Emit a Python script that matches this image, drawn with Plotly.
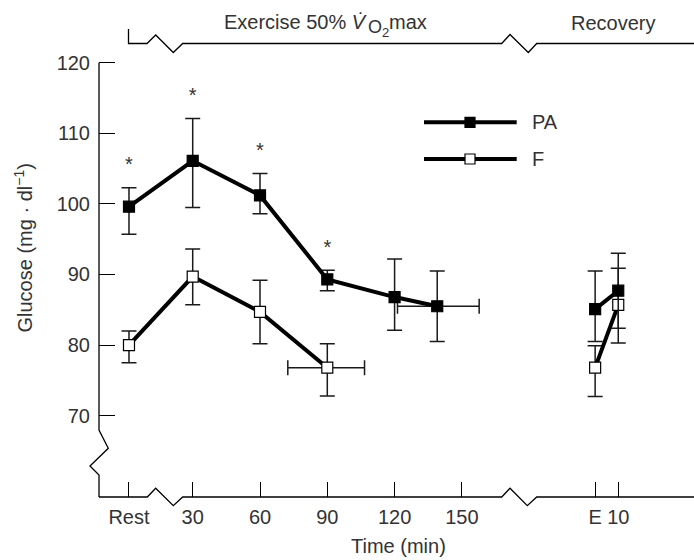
import plotly.graph_objects as go

# ---------------- data ----------------
time_ticks = [1.6, 30, 60, 90, 120, 150, 209.4, 219.7]
time_labels = ["Rest", "30", "60", "90", "120", "150", "E", "10"]
y_ticks = [70, 80, 90, 100, 110, 120]

# PA group - exercise phase
pa_ex_x = [1.6, 30, 60, 90, 120, 139]
pa_ex_y = [99.6, 106.1, 101.2, 89.3, 86.8, 85.5]
pa_ex_ep = [2.7, 6.0, 3.1, 1.3, 5.4, 5.0]
pa_ex_em = [3.9, 6.6, 2.6, 1.6, 4.7, 5.0]
pa_ex_xep = [0, 0, 0, 0, 0, 18.7]
pa_ex_xem = [0, 0, 0, 0, 0, 17.7]
pa_sig = [True, True, True, True, False, False]

# PA group - recovery
pa_rec_x = [209.4, 219.7]
pa_rec_y = [85.1, 87.7]
pa_rec_ep = [5.4, 5.3]
pa_rec_em = [4.6, 5.3]

# F group - exercise phase
f_ex_x = [1.6, 30, 60, 90]
f_ex_y = [80.0, 89.7, 84.7, 76.8]
f_ex_ep = [2.0, 3.9, 4.5, 3.4]
f_ex_em = [2.5, 4.0, 4.5, 4.0]
f_ex_xep = [0, 0, 0, 16.6]
f_ex_xem = [0, 0, 0, 17.6]

# F group - recovery
f_rec_x = [209.4, 219.7]
f_rec_y = [76.8, 85.7]
f_rec_ep = [3.1, 5.2]
f_rec_em = [4.1, 5.4]

# ---------------- layout geometry ----------------
W, H = 694, 560
ML, MR, MT, MB = 99, 0, 0, 63
PLOT_W = W - ML - MR
PLOT_H = H - MT - MB
FONT = "Liberation Sans, Arial, sans-serif"
TXT = "#333333"
FS = 20


def PX(x):
    return (x - ML) / PLOT_W


def PY(y):
    return (MT + PLOT_H - y) / PLOT_H


def path(points):
    return "M " + " L ".join(f"{PX(x):.5f},{PY(y):.5f}" for x, y in points)


fig = go.Figure()

# horizontal error bars (drawn beneath)
for xs, ys, xep, xem in [(pa_ex_x, pa_ex_y, pa_ex_xep, pa_ex_xem),
                         (f_ex_x, f_ex_y, f_ex_xep, f_ex_xem)]:
    idx = [i for i in range(len(xs)) if xep[i] > 0 or xem[i] > 0]
    fig.add_trace(go.Scatter(
        x=[xs[i] for i in idx], y=[ys[i] for i in idx], mode="markers",
        marker=dict(size=1, opacity=0),
        error_x=dict(type="data", array=[xep[i] for i in idx],
                     arrayminus=[xem[i] for i in idx], symmetric=False,
                     color="#1a1a1a", thickness=1.5, width=7.5),
        showlegend=False, hoverinfo="skip"))

series = [
    (f_ex_x, f_ex_y, f_ex_ep, f_ex_em, "white"),
    (f_rec_x, f_rec_y, f_rec_ep, f_rec_em, "white"),
    (pa_ex_x, pa_ex_y, pa_ex_ep, pa_ex_em, "black"),
    (pa_rec_x, pa_rec_y, pa_rec_ep, pa_rec_em, "black"),
]
for xs, ys, ep, em, fill in series:
    fig.add_trace(go.Scatter(
        x=xs, y=ys, mode="lines+markers",
        line=dict(color="black", width=4),
        marker=dict(symbol="square", size=11, color=fill,
                    line=dict(color="black", width=1.2)),
        error_y=dict(type="data", array=ep, arrayminus=em, symmetric=False,
                     color="#1a1a1a", thickness=1.5, width=7.5),
        showlegend=False, hoverinfo="skip"))

# significance asterisks above PA error bars
sx = [pa_ex_x[i] for i in range(len(pa_ex_x)) if pa_sig[i]]
sy = [pa_ex_y[i] + pa_ex_ep[i] + 3.0 for i in range(len(pa_ex_x)) if pa_sig[i]]
fig.add_trace(go.Scatter(x=sx, y=sy, mode="text", text=["*"] * len(sx),
                         textposition="middle center",
                         textfont=dict(family=FONT, size=20, color=TXT),
                         showlegend=False, hoverinfo="skip"))

shapes = []
line_style = dict(color="black", width=1.3)
# y axis with break
shapes.append(dict(type="path", xref="paper", yref="paper", line=line_style,
                   path=path([(99, 62.7), (99, 430), (108.3, 448.3), (90, 466),
                              (99, 475), (99, 497)])))
# x axis with breaks
shapes.append(dict(type="path", xref="paper", yref="paper", line=line_style,
                   path=path([(99, 497), (147.3, 497), (155.7, 488.3), (173.3, 505.7),
                              (182.7, 497), (501.7, 497), (510, 488.3), (527.3, 505.7),
                              (536.7, 497), (694, 497)])))
# header bracket
shapes.append(dict(type="path", xref="paper", yref="paper", line=line_style,
                   path=path([(128.5, 29), (128.5, 43.5), (147, 43.5), (155.7, 35),
                              (173.3, 52.5), (182.7, 43.5), (501.7, 43.5), (510, 34.5),
                              (528.3, 52.5), (536.7, 43.5), (694, 43.5)])))
# legend keys
for ly, fill in [(122.3, "black"), (159, "white")]:
    shapes.append(dict(type="line", xref="paper", yref="paper",
                       x0=PX(424), x1=PX(516.7), y0=PY(ly), y1=PY(ly),
                       line=dict(color="black", width=4)))
    shapes.append(dict(type="rect", xref="paper", yref="paper",
                       x0=PX(465), x1=PX(475), y0=PY(ly - 5), y1=PY(ly + 5),
                       fillcolor=fill, line=dict(color="black", width=1.2)))


def ann(text, x, y, xanchor="center", size=FS, **kw):
    d = dict(text=text, x=PX(x), y=PY(y), xanchor=xanchor, yanchor="middle",
             xref="paper", yref="paper", showarrow=False,
             font=dict(family=FONT, size=size, color=TXT))
    d.update(kw)
    return d


annotations = [
    ann("PA", 530, 122.3, "left"),
    ann("F", 530, 159, "left"),
    # header: Exercise 50% V̇O2max built from pieces
    ann("Exercise 50% <i>V̇</i>", 222, 22, "left"),
    ann("O", 365.5, 27.5, "left", size=18),
    ann("2", 379.5, 32.5, "left", size=13),
    ann("max", 387, 22, "left"),
    ann("Recovery", 613, 22.7),
    ann("Time (min)", 398, 546),
    ann("Glucose (mg · dl<sup>−1</sup>)", 22.5, 248, textangle=-90),
]

fig.update_layout(
    width=W, height=H,
    margin=dict(l=ML, r=MR, t=MT, b=MB, pad=0),
    paper_bgcolor="white", plot_bgcolor="white",
    font=dict(family=FONT, size=FS, color=TXT),
    shapes=shapes, annotations=annotations,
    showlegend=False,
    xaxis=dict(range=[-11.77, 253.47], tickvals=time_ticks, ticktext=time_labels,
               ticks="inside", ticklen=15, tickwidth=1.3, tickcolor="black",
               showline=False, showgrid=False, zeroline=False,
               ticklabelstandoff=6, tickfont=dict(family=FONT, size=FS, color=TXT)),
    yaxis=dict(range=[58.48, 128.88], tickvals=y_ticks,
               ticks="inside", ticklen=16, tickwidth=1.3, tickcolor="black",
               showline=False, showgrid=False, zeroline=False,
               ticklabelstandoff=8, tickfont=dict(family=FONT, size=FS, color=TXT)),
)

fig.write_html("out.html")
